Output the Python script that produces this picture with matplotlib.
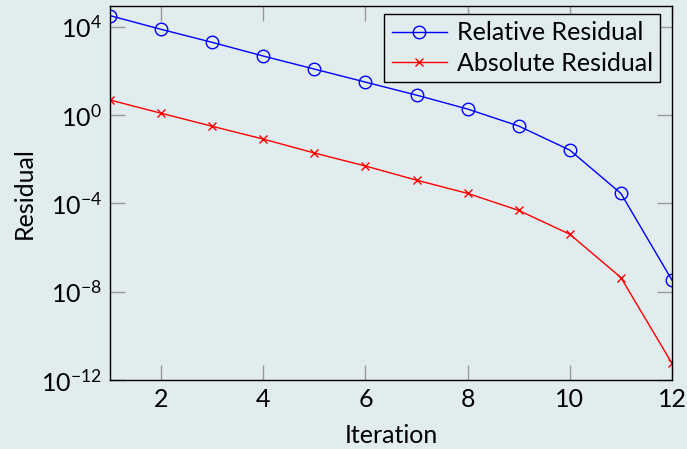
import numpy as np
import matplotlib
matplotlib.use("Agg")
import matplotlib.pyplot as plt
from matplotlib.ticker import NullLocator

plt.rcParams["font.family"] = ["Lato", "DejaVu Sans"]
plt.rcParams["mathtext.fontset"] = "custom"
plt.rcParams["mathtext.rm"] = "Lato"

BG = "#e1ecee"

iterations = [1, 2, 3, 4, 5, 6, 7, 8, 9, 10, 11, 12]
# log10 of residuals
rel_log = [4.50, 3.88, 3.29, 2.67, 2.08, 1.49, 0.90, 0.27, -0.50, -1.59, -3.55, -7.48]
abs_log = [0.68, 0.08, -0.51, -1.09, -1.72, -2.31, -2.95, -3.55, -4.32, -5.40, -7.36, -11.25]
relative = [10 ** v for v in rel_log]
absolute = [10 ** v for v in abs_log]

fig = plt.figure(figsize=(6.87, 4.49), dpi=100, facecolor=BG)
ax = fig.add_axes([110 / 687, 1 - 380 / 449, (672 - 110) / 687, (380 - 5.7) / 449])
ax.set_facecolor(BG)

ax.plot(iterations, relative, color="blue", lw=1, marker="o", ms=9,
        mfc="none", mec="blue", mew=1, label="Relative Residual")
ax.plot(iterations, absolute, color="red", lw=1, marker="x", ms=6,
        mec="red", mew=1, label="Absolute Residual")

ax.set_yscale("log")
ax.set_xlim(1, 12)
ax.set_ylim(1e-12, 10 ** 4.95)
ax.set_xticks([2, 4, 6, 8, 10, 12])
ax.set_yticks([1e-12, 1e-8, 1e-4, 1e0, 1e4])
ax.yaxis.set_minor_locator(NullLocator())

ax.tick_params(axis="both", which="major", direction="in", length=11, width=1,
               color="#999999", top=True, right=True, labelsize=18, pad=6)
for s in ax.spines.values():
    s.set_color("black")
    s.set_linewidth(1)

ax.set_xlabel("Iteration", fontsize=18, labelpad=9)
ax.set_ylabel("Residual", fontsize=18, labelpad=4)

leg = ax.legend(loc="upper right", fontsize=18, frameon=True, fancybox=False,
                edgecolor="black", facecolor=BG, framealpha=1, handlelength=2.2,
                handletextpad=0.4, borderpad=0.3, labelspacing=0.3,
                borderaxespad=0, bbox_to_anchor=(0.979, 0.978))
leg.get_frame().set_linewidth(1)

fig.savefig("out.png", dpi=100, facecolor=BG)
